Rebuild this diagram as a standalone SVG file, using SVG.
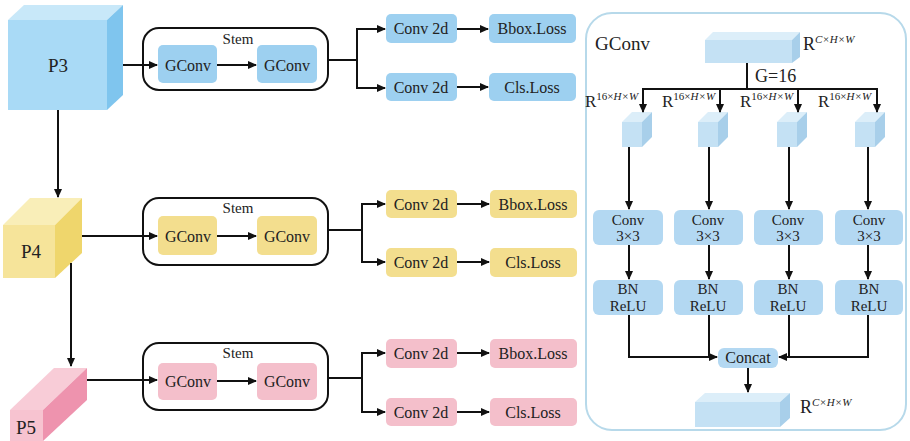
<svg xmlns="http://www.w3.org/2000/svg" width="910" height="441" viewBox="0 0 910 441">
<defs>
<style>
text{font-family:"Liberation Serif","Times New Roman",serif;fill:#222;}
.lbl{font-size:16px;text-anchor:middle;}
.lb2{font-size:15px;text-anchor:middle;}
.stem{fill:none;stroke:#111;stroke-width:2;}
.b{fill:#9dd0f0;}
.y{fill:#f3de8e;}
.p{fill:#f4bfcb;}
.pb{fill:#b3d8f2;}
.ln{fill:none;stroke:#111;stroke-width:2;}
.ar{marker-end:url(#ah);}
.cf{fill:#c4e1f4;}
.ct{fill:#dceef9;}
.cr{fill:#a8cfea;}
.sup{font-size:11px;}
</style>
<marker id="ah" markerUnits="userSpaceOnUse" markerWidth="9" markerHeight="8" refX="8" refY="4" orient="auto">
<path d="M0,0 L9,4 L0,8 z" fill="#111"/>
</marker>
</defs>

<!-- P3 -->
<g id="P3">
<polygon points="8,20 107,20 123,5 24,5" fill="#c8e8f9"/>
<polygon points="107,20 123,5 123,95 107,110" fill="#7fc5ee"/>
<rect x="8" y="20" width="99" height="90" fill="#a9daf6"/>
<text x="58" y="72" style="font-size:19px" text-anchor="middle">P3</text>
</g>
<!-- P4 -->
<g id="P4">
<polygon points="3,225 55,225 82,198 30,198" fill="#f9eeb8"/>
<polygon points="55,225 82,198 82,253 55,278" fill="#efd66c"/>
<rect x="3" y="225" width="52" height="53" fill="#f6e49a"/>
<text x="31" y="258" style="font-size:19px" text-anchor="middle">P4</text>
</g>
<!-- P5 -->
<g id="P5">
<polygon points="10,410 43,410 87,368 54,368" fill="#f8ccd7"/>
<polygon points="43,410 87,368 87,400 43,441" fill="#ee93ae"/>
<rect x="10" y="410" width="33" height="31" fill="#f7c3d0"/>
<text x="26" y="434" style="font-size:19px" text-anchor="middle">P5</text>
</g>

<!-- Row 1 -->
<g id="stem1">
<rect x="143" y="28" width="185" height="62" rx="16" class="stem"/>
<text x="238" y="44" style="font-size:15px" text-anchor="middle">Stem</text>
</g>
<g id="gconv1a"><rect x="158" y="45" width="59" height="38" rx="5" class="b"/><text x="188" y="71" class="lbl">GConv</text></g>
<g id="gconv1b"><rect x="257" y="45" width="60" height="38" rx="5" class="b"/><text x="287" y="71" class="lbl">GConv</text></g>
<g id="conv1a"><rect x="386" y="14" width="71" height="29" rx="5" class="b"/><text x="421" y="34" class="lbl">Conv 2d</text></g>
<g id="conv1b"><rect x="386" y="73" width="71" height="28" rx="5" class="b"/><text x="421" y="93" class="lbl">Conv 2d</text></g>
<g id="bbox1"><rect x="489" y="14" width="87" height="29" rx="5" class="b"/><text x="532" y="34" class="lbl">Bbox.Loss</text></g>
<g id="cls1"><rect x="489" y="73" width="87" height="28" rx="5" class="b"/><text x="532" y="93" class="lbl">Cls.Loss</text></g>

<!-- Row 2 -->
<g id="stem2">
<rect x="143" y="198" width="185" height="67" rx="16" class="stem"/>
<text x="238" y="213" style="font-size:15px" text-anchor="middle">Stem</text>
</g>
<g id="gconv2a"><rect x="158" y="216" width="59" height="39" rx="5" class="y"/><text x="188" y="242" class="lbl">GConv</text></g>
<g id="gconv2b"><rect x="257" y="216" width="60" height="39" rx="5" class="y"/><text x="287" y="242" class="lbl">GConv</text></g>
<g id="conv2a"><rect x="386" y="190" width="71" height="28" rx="5" class="y"/><text x="421" y="210" class="lbl">Conv 2d</text></g>
<g id="conv2b"><rect x="386" y="248" width="71" height="29" rx="5" class="y"/><text x="421" y="268" class="lbl">Conv 2d</text></g>
<g id="bbox2"><rect x="490" y="190" width="87" height="28" rx="5" class="y"/><text x="533" y="210" class="lbl">Bbox.Loss</text></g>
<g id="cls2"><rect x="490" y="248" width="87" height="29" rx="5" class="y"/><text x="533" y="268" class="lbl">Cls.Loss</text></g>

<!-- Row 3 -->
<g id="stem3">
<rect x="143" y="343" width="185" height="67" rx="16" class="stem"/>
<text x="238" y="358" style="font-size:15px" text-anchor="middle">Stem</text>
</g>
<g id="gconv3a"><rect x="158" y="363" width="59" height="37" rx="5" class="p"/><text x="188" y="387" class="lbl">GConv</text></g>
<g id="gconv3b"><rect x="257" y="363" width="60" height="37" rx="5" class="p"/><text x="287" y="387" class="lbl">GConv</text></g>
<g id="conv3a"><rect x="386" y="339" width="71" height="29" rx="5" class="p"/><text x="421" y="359" class="lbl">Conv 2d</text></g>
<g id="conv3b"><rect x="386" y="398" width="71" height="28" rx="5" class="p"/><text x="421" y="418" class="lbl">Conv 2d</text></g>
<g id="bbox3"><rect x="490" y="339" width="87" height="29" rx="5" class="p"/><text x="533" y="359" class="lbl">Bbox.Loss</text></g>
<g id="cls3"><rect x="490" y="398" width="87" height="28" rx="5" class="p"/><text x="533" y="418" class="lbl">Cls.Loss</text></g>

<!-- GConv panel -->
<g id="panel">
<rect x="586" y="13" width="320" height="417" rx="26" fill="none" stroke="#b7d9ea" stroke-width="2"/>
<text x="595" y="50" style="font-size:19px">GConv</text>
</g>
<g id="topblock">
<polygon points="705,40 792,40 800,32 713,32" class="ct"/>
<polygon points="792,40 800,32 800,57 792,63" class="cr"/>
<rect x="705" y="40" width="87" height="23" class="cf"/>
<text x="803" y="50" style="font-size:18px">R<tspan class="sup" dy="-7" font-style="italic">C×H×W</tspan></text>
</g>
<text x="755" y="82" style="font-size:18px">G=16</text>

<g id="split1">
<polygon points="622,122 642,122 652,112 632,112" class="ct"/>
<polygon points="642,122 652,112 652,137 642,147" class="cr"/>
<rect x="622" y="122" width="20" height="25" class="cf"/>
<text x="585" y="107" style="font-size:17px">R<tspan class="sup" dy="-7">16×</tspan><tspan class="sup" font-style="italic">H×W</tspan></text>
</g>
<g id="split2">
<polygon points="698,122 718,122 728,112 708,112" class="ct"/>
<polygon points="718,122 728,112 728,137 718,147" class="cr"/>
<rect x="698" y="122" width="20" height="25" class="cf"/>
<text x="662" y="107" style="font-size:17px">R<tspan class="sup" dy="-7">16×</tspan><tspan class="sup" font-style="italic">H×W</tspan></text>
</g>
<g id="split3">
<polygon points="777,122 797,122 807,112 787,112" class="ct"/>
<polygon points="797,122 807,112 807,137 797,147" class="cr"/>
<rect x="777" y="122" width="20" height="25" class="cf"/>
<text x="740" y="107" style="font-size:17px">R<tspan class="sup" dy="-7">16×</tspan><tspan class="sup" font-style="italic">H×W</tspan></text>
</g>
<g id="split4">
<polygon points="855,122 875,122 885,112 865,112" class="ct"/>
<polygon points="875,122 885,112 885,137 875,147" class="cr"/>
<rect x="855" y="122" width="20" height="25" class="cf"/>
<text x="818" y="107" style="font-size:17px">R<tspan class="sup" dy="-7">16×</tspan><tspan class="sup" font-style="italic">H×W</tspan></text>
</g>

<g id="c33a"><rect x="593" y="210" width="70" height="35" rx="6" class="pb"/><text x="628" y="225" class="lb2">Conv</text><text x="628" y="241" class="lb2">3×3</text></g>
<g id="c33b"><rect x="674" y="210" width="69" height="35" rx="6" class="pb"/><text x="708" y="225" class="lb2">Conv</text><text x="708" y="241" class="lb2">3×3</text></g>
<g id="c33c"><rect x="754" y="210" width="69" height="35" rx="6" class="pb"/><text x="788" y="225" class="lb2">Conv</text><text x="788" y="241" class="lb2">3×3</text></g>
<g id="c33d"><rect x="835" y="210" width="68" height="35" rx="6" class="pb"/><text x="869" y="225" class="lb2">Conv</text><text x="869" y="241" class="lb2">3×3</text></g>

<g id="bna"><rect x="593" y="280" width="70" height="35" rx="6" class="pb"/><text x="628" y="294" class="lb2">BN</text><text x="628" y="311" class="lb2">ReLU</text></g>
<g id="bnb"><rect x="674" y="280" width="69" height="35" rx="6" class="pb"/><text x="708" y="294" class="lb2">BN</text><text x="708" y="311" class="lb2">ReLU</text></g>
<g id="bnc"><rect x="754" y="280" width="69" height="35" rx="6" class="pb"/><text x="788" y="294" class="lb2">BN</text><text x="788" y="311" class="lb2">ReLU</text></g>
<g id="bnd"><rect x="835" y="280" width="68" height="35" rx="6" class="pb"/><text x="869" y="294" class="lb2">BN</text><text x="869" y="311" class="lb2">ReLU</text></g>

<g id="concat"><rect x="718" y="348" width="60" height="20" rx="6" class="pb"/><text x="748" y="363" class="lbl">Concat</text></g>

<g id="outblock">
<polygon points="695,402 780,402 790,393 705,393" class="ct"/>
<polygon points="780,402 790,393 790,418 780,427" class="cr"/>
<rect x="695" y="402" width="85" height="25" class="cf"/>
<text x="800" y="413" style="font-size:18px">R<tspan class="sup" dy="-7" font-style="italic">C×H×W</tspan></text>
</g>

<g id="connectors">
<path class="ln ar" d="M123,65 H157"/>
<path class="ln ar" d="M217,65 H256"/>
<path class="ln" d="M328,60 H357"/>
<path class="ln ar" d="M357,60 V29 H385"/>
<path class="ln ar" d="M357,60 V88 H385"/>
<path class="ln ar" d="M457,29 H488"/>
<path class="ln ar" d="M457,87 H488"/>
<path class="ln ar" d="M58,110 V197"/>

<path class="ln ar" d="M82,236 H157"/>
<path class="ln ar" d="M217,236 H256"/>
<path class="ln" d="M328,230 H362"/>
<path class="ln ar" d="M362,230 V204 H385"/>
<path class="ln ar" d="M362,230 V262 H385"/>
<path class="ln ar" d="M457,204 H489"/>
<path class="ln ar" d="M457,262 H489"/>
<path class="ln ar" d="M71,263 V366"/>

<path class="ln ar" d="M87,380 H157"/>
<path class="ln ar" d="M217,381 H256"/>
<path class="ln" d="M328,378 H362"/>
<path class="ln ar" d="M362,378 V353 H385"/>
<path class="ln ar" d="M362,378 V412 H385"/>
<path class="ln ar" d="M457,353 H489"/>
<path class="ln ar" d="M457,412 H489"/>

<path class="ln" d="M747,63 V89"/>
<path class="ln" d="M642,89 H878"/>
<path class="ln ar" d="M643,88 V112"/>
<path class="ln ar" d="M720,88 V112"/>
<path class="ln ar" d="M798,88 V112"/>
<path class="ln ar" d="M877,88 V112"/>

<path class="ln ar" d="M629,147 V209"/>
<path class="ln ar" d="M709,147 V209"/>
<path class="ln ar" d="M789,147 V209"/>
<path class="ln ar" d="M868,147 V209"/>

<path class="ln ar" d="M629,245 V279"/>
<path class="ln ar" d="M709,245 V279"/>
<path class="ln ar" d="M789,245 V279"/>
<path class="ln ar" d="M868,245 V279"/>

<path class="ln ar" d="M629,315 V357 H717"/>
<path class="ln" d="M709,315 V357"/>
<path class="ln ar" d="M868,315 V357 H779"/>
<path class="ln" d="M789,315 V357"/>
<path class="ln ar" d="M748,368 V392"/>
</g>
</svg>
